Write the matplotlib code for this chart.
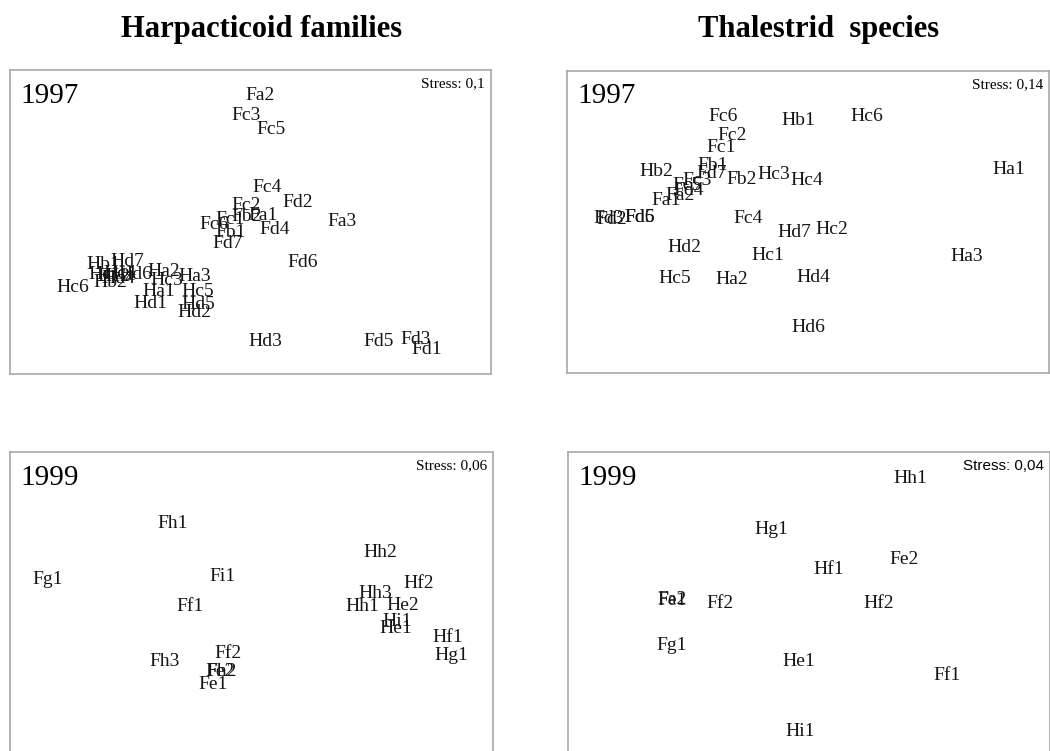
import matplotlib
matplotlib.use("Agg")
import matplotlib.pyplot as plt

# nMDS ordinations, coordinates (arbitrary units, 0-100)
fam97_labels = ["Fa2", "Fc3", "Fc5", "Fc4", "Fd2", "Fc2", "Fa1", "Fb2", "Fa3", "Fc1",
                "Fc6", "Fb1", "Fd4", "Fd7", "Fd6", "Fd5", "Fd3", "Fd1", "Hd3", "Hc6",
                "Hb2", "Hb1", "Hd7", "Hc1", "Hc2", "Hc4", "Hd4", "Hd6", "Ha2", "Ha3",
                "Hc3", "Ha1", "Hc5", "Hd1", "Hd5", "Hd2"]
fam97_x = [52.0, 49.1, 54.2, 53.4, 59.8, 49.2, 52.7, 49.3, 69.1, 45.7,
           42.4, 45.9, 55.1, 45.2, 60.8, 76.6, 84.4, 86.6, 53.0, 13.0,
           20.8, 19.5, 24.4, 19.8, 21.5, 22.9, 22.5, 26.0, 32.0, 38.5,
           32.6, 31.0, 39.0, 29.1, 39.2, 38.3]
fam97_y = [91.5, 84.9, 80.3, 61.4, 56.4, 55.4, 52.1, 51.7, 50.1, 50.9,
           49.2, 46.5, 47.4, 43.0, 36.7, 10.6, 11.4, 8.1, 10.6, 28.4,
           30.0, 35.9, 36.9, 32.6, 32.0, 33.1, 31.5, 32.6, 33.7, 32.0,
           30.7, 27.1, 27.1, 23.3, 22.9, 20.3]

tha97_labels = ["Fc6", "Hb1", "Hc6", "Fc2", "Fc1", "Fb1", "Hb2", "Fd7", "Fc3", "Fc5",
                "Fd4", "Fa2", "Fa1", "Fb2", "Hc3", "Fd3", "Fd2", "Fd6", "Fd5", "Fc4",
                "Hc4", "Ha1", "Hd7", "Hc2", "Hd2", "Hc1", "Ha3", "Hc5", "Ha2", "Hd4",
                "Hd6"]
tha97_x = [32.4, 47.9, 62.2, 34.3, 31.9, 30.2, 18.6, 30.0, 26.9, 25.0,
           25.2, 23.4, 20.5, 36.2, 42.8, 8.6, 9.3, 15.1, 15.0, 37.6,
           49.7, 91.6, 47.2, 54.9, 24.3, 41.6, 82.9, 22.3, 34.2, 51.2,
           50.1]
tha97_y = [84.9, 83.5, 84.9, 78.5, 74.7, 68.6, 66.8, 66.1, 63.7, 62.0,
           60.4, 58.7, 57.1, 63.9, 65.6, 51.1, 50.8, 51.6, 51.3, 51.1,
           63.7, 67.2, 46.6, 47.5, 41.7, 38.9, 38.6, 31.2, 31.0, 31.8,
           15.0]

fam99_labels = ["Fh1", "Fg1", "Fi1", "Ff1", "Hh2", "Hf2", "Hh3", "Hh1", "He2", "Hi1",
                "He1", "Hf1", "Hg1", "Fh3", "Ff2", "Fe2", "Fh2", "Fe1"]
fam99_x = [33.7, 7.9, 43.9, 37.3, 76.6, 84.7, 75.6, 72.9, 81.3, 80.1,
           79.9, 90.7, 91.4, 32.1, 45.1, 43.5, 43.8, 42.1]
fam99_y = [76.6, 57.9, 58.9, 49.3, 66.8, 56.6, 53.5, 49.1, 49.4, 44.2,
           41.8, 38.9, 33.2, 31.0, 33.8, 27.7, 27.9, 23.4]

tha99_labels = ["Hh1", "Hg1", "Fe2", "Hf1", "Fa2", "Fe1", "Ff2", "Hf2", "Fg1", "He1",
                "Ff1", "Hi1"]
tha99_x = [71.1, 42.1, 69.8, 54.1, 21.5, 21.5, 31.5, 64.4, 21.4, 47.8,
           78.7, 48.1]
tha99_y = [91.3, 74.6, 64.5, 61.2, 51.6, 51.3, 50.2, 50.2, 36.2, 31.0,
           26.6, 8.0]

years = ["1997", "1997", "1999", "1999"]
stress = ["Stress: 0,1", "Stress: 0,14", "Stress: 0,06", "Stress: 0,04"]
titles = ["Harpacticoid families", "Thalestrid  species"]

serif = "Liberation Serif"


def mds_panel(fig, rect, labels, xs, ys, year, stress_txt, stress_font):
    ax = fig.add_axes(rect)
    for lab, x, y in zip(labels, xs, ys):
        ax.text(x, y, lab, ha="center", va="center", fontsize=14,
                family=serif, color="#151515")
    ax.set_xlim(0, 100)
    ax.set_ylim(0, 100)
    ax.set_xticks([])
    ax.set_yticks([])
    for sp in ax.spines.values():
        sp.set_color("#a8a8a8")
        sp.set_linewidth(1.2)
    ax.text(0.021, 0.915, year, transform=ax.transAxes, ha="left", va="center",
            fontsize=21, family=serif)
    ax.text(0.988, 0.954, stress_txt, transform=ax.transAxes, ha="right",
            va="center", fontsize=11, family=stress_font)
    return ax


def main():
    fig = plt.figure(figsize=[10.5, 7.51], dpi=100)

    mds_panel(fig, [0.0095, 0.502, 0.458, 0.405], fam97_labels, fam97_x, fam97_y,
              years[0], stress[0], serif)
    mds_panel(fig, [0.540, 0.503, 0.459, 0.403], tha97_labels, tha97_x, tha97_y,
              years[1], stress[1], serif)
    mds_panel(fig, [0.0095, -0.0067, 0.460, 0.405], fam99_labels, fam99_x, fam99_y,
              years[2], stress[2], serif)
    mds_panel(fig, [0.541, -0.0067, 0.459, 0.405], tha99_labels, tha99_x, tha99_y,
              years[3], stress[3], "Liberation Sans")

    fig.text(0.249, 0.961, titles[0], ha="center", va="center", fontsize=22,
             fontweight="bold", family=serif)
    fig.text(0.780, 0.961, titles[1], ha="center", va="center", fontsize=22,
             fontweight="bold", family=serif)

    fig.savefig("out.png", dpi=100)
    plt.close(fig)


if __name__ == "__main__":
    main()
